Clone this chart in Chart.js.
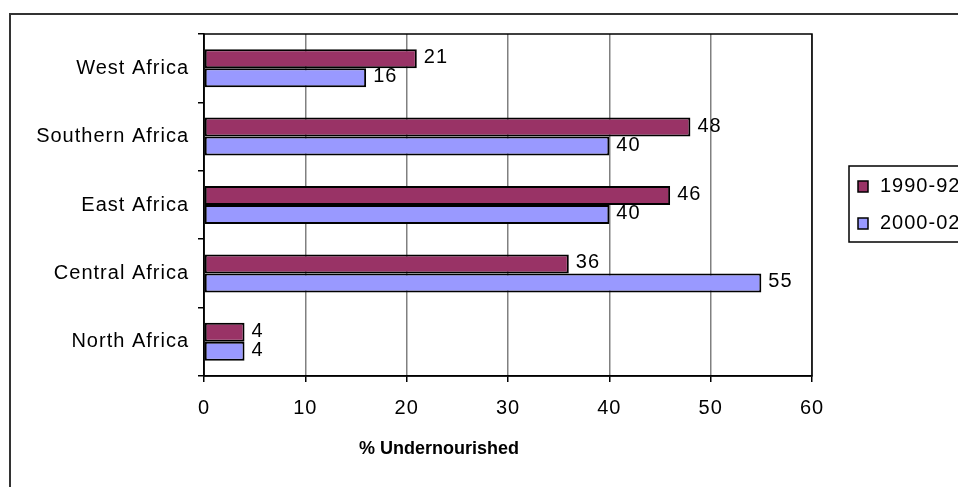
<!DOCTYPE html>
<html>
<head>
<meta charset="utf-8">
<title>% Undernourished by region</title>
<script src="https://cdn.jsdelivr.net/npm/chart.js@4.4.1/dist/chart.umd.min.js"></script>
<style>
  html, body { margin: 0; padding: 0; background: #fff; }
  canvas { display: block; }
</style>
</head>
<body>
<canvas id="chart" width="958" height="487" style="width:958px;height:487px"></canvas>
<script>
// =============================================
// Data
// =============================================
const regions = ['West Africa', 'Southern Africa', 'East Africa', 'Central Africa', 'North Africa'];
const seriesNames = ['1990-92', '2000-02'];
const values1990 = [21, 48, 46, 36, 4];
const values2000 = [16, 40, 40, 55, 4];
const xRange = [0, 60];
const xStep = 10;
const axisTitle = '% Undernourished';

const SERIES_COLORS = ['#993366', '#9999ff'];
const FONT = '"Liberation Sans", Arial, sans-serif';
const FONT_SIZE = 20;
const SPACING = '1px';

// Excel-style text is a bit wider than the canvas default
const setSpacing = chart => { chart.ctx.letterSpacing = SPACING; };

const framePlugin = {
  id: 'frame',
  beforeUpdate: setSpacing,
  beforeDraw(chart) {
    const ctx = chart.ctx;
    setSpacing(chart);
    ctx.save();
    ctx.fillStyle = '#fff';
    ctx.fillRect(0, 0, chart.width, chart.height);
    // outer chart border (only left + top are inside the shot)
    ctx.strokeStyle = '#333';
    ctx.lineWidth = 2;
    ctx.beginPath();
    ctx.moveTo(10, chart.height);
    ctx.lineTo(10, 14);
    ctx.lineTo(chart.width, 14);
    ctx.stroke();
    ctx.restore();
  },
  afterDraw(chart) {
    const ctx = chart.ctx;
    const a = chart.chartArea;
    ctx.save();
    // plot area border
    ctx.strokeStyle = '#000';
    ctx.lineWidth = 1.5;
    ctx.strokeRect(a.left, a.top, a.right - a.left, a.bottom - a.top);

    // axis title, centred on the whole chart block
    ctx.letterSpacing = '0px';
    ctx.fillStyle = '#000';
    ctx.font = 'bold 18px ' + FONT;
    ctx.textAlign = 'center';
    ctx.textBaseline = 'middle';
    ctx.fillText(axisTitle, 439, 449);

    // legend box (runs off the right edge like the original)
    ctx.letterSpacing = SPACING;
    ctx.font = FONT_SIZE + 'px ' + FONT;
    ctx.textAlign = 'left';
    ctx.lineWidth = 1.5;
    ctx.strokeRect(849, 166, 200, 76);
    chart.data.datasets.forEach((ds, i) => {
      const y = 181 + i * 37;
      ctx.fillStyle = ds.backgroundColor;
      ctx.fillRect(858, y, 10, 11);
      ctx.strokeStyle = '#000';
      ctx.strokeRect(858, y, 10, 11);
      ctx.fillStyle = '#000';
      ctx.fillText(ds.label, 880, y + 5.5);
    });
    ctx.restore();
  }
};

// value labels at the end of each bar
const valueLabels = {
  id: 'valueLabels',
  afterDatasetsDraw(chart) {
    const ctx = chart.ctx;
    ctx.save();
    ctx.letterSpacing = SPACING;
    ctx.font = FONT_SIZE + 'px ' + FONT;
    ctx.fillStyle = '#000';
    ctx.textAlign = 'left';
    ctx.textBaseline = 'middle';
    chart.data.datasets.forEach((ds, i) => {
      chart.getDatasetMeta(i).data.forEach((bar, j) => {
        ctx.fillText(String(ds.data[j]), bar.x + 7, bar.y - 1);
      });
    });
    ctx.restore();
  }
};

// =============================================
// Chart
// =============================================
new Chart(document.getElementById('chart'), {
  type: 'bar',
  data: {
    labels: regions,
    datasets: [values1990, values2000].map((vals, i) => ({
      label: seriesNames[i],
      data: vals,
      backgroundColor: SERIES_COLORS[i],
      borderColor: '#000',
      borderWidth: 2,
      borderSkipped: false,
      categoryPercentage: 0.555,
      barPercentage: 1.0,
    }))
  },
  options: {
    indexAxis: 'y',
    responsive: false,
    animation: false,
    layout: { padding: { top: 34, right: 146, left: 0, bottom: 0 } },
    plugins: {
      legend: { display: false },
      tooltip: { enabled: false },
    },
    scales: {
      y: {
        afterFit: s => { s.width = 204; },
        grid: { drawOnChartArea: false, tickLength: 6, tickColor: '#000', lineWidth: 1.5 },
        border: { color: '#000', width: 1.5 },
        ticks: { color: '#000', padding: 9, font: { family: FONT, size: FONT_SIZE } },
      },
      x: {
        min: xRange[0],
        max: xRange[1],
        afterFit: s => { s.height = 111; },
        grid: { color: '#808080', lineWidth: 1.5, tickLength: 6, tickColor: '#000' },
        border: { color: '#000', width: 1.5 },
        ticks: { stepSize: xStep, color: '#000', padding: 14, maxRotation: 0, font: { family: FONT, size: FONT_SIZE } },
      }
    }
  },
  plugins: [framePlugin, valueLabels]
});
</script>
</body>
</html>
